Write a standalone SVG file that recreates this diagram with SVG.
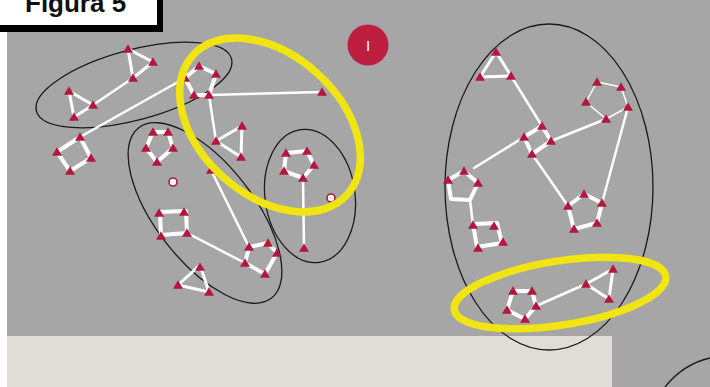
<svg xmlns="http://www.w3.org/2000/svg" xmlns:xlink="http://www.w3.org/1999/xlink" width="710" height="387" viewBox="0 0 710 387">
  <style>
    .hull { fill: none; stroke: #1a1a1a; stroke-width: 1.3; }
    .mark { fill: none; stroke: #F0E412; stroke-width: 7.5; }
    .edge { fill: none; stroke: #ffffff; stroke-linejoin: round; stroke-linecap: round; }
    .w4 { stroke-width: 4; }
    .w3 { stroke-width: 3; }
    .w2 { stroke-width: 2.5; }
    .w1 { stroke-width: 1.5; }
    .hole { fill: #ffffff; stroke: #B3173B; stroke-width: 1.6; }
  </style>
  <defs>
    <path id="tri" d="M0,-4.8 L5,3.8 L-5,3.8 Z" fill="#B3173B"/>
  </defs>

  <!-- page and panels -->
  <rect x="0" y="0" width="710" height="387" fill="#ffffff"/>
  <rect x="7" y="0" width="703" height="387" fill="#A6A6A6"/>
  <rect x="7" y="336" width="605" height="51" fill="#E0DCD6"/>

  <!-- title tab -->
  <g id="title">
    <rect x="0" y="0" width="163" height="32" fill="#000000"/>
    <rect x="0" y="0" width="157" height="25" fill="#ffffff"/>
    <text x="25" y="12" font-family="Liberation Sans, Arial, sans-serif" font-weight="bold" font-size="26" fill="#111111">Figura 5</text>
  </g>

  <!-- group outlines -->
  <g id="hulls">
    <ellipse class="hull" cx="134" cy="85" rx="101" ry="35" transform="rotate(-15 134 85)"/>
    <ellipse class="hull" cx="205" cy="213" rx="108" ry="49" transform="rotate(52 205 213)"/>
    <ellipse class="hull" cx="310" cy="196" rx="45" ry="67" transform="rotate(-8 310 196)"/>
    <ellipse class="hull" cx="549" cy="187" rx="104" ry="163"/>
    <path class="hull" d="M665,387 C677,372 692,362 710,358"/>
  </g>

  <!-- connectors -->
  <g id="connectors">
    <!-- shape outlines -->
    <path class="edge w4" d="M199,66 L216,74 L209,95 L194,95 L185,78 Z"/>
    <path class="edge w4" d="M153,132 L168,132 L173,148 L157,162 L146,148 Z"/>
    <path class="edge w4" d="M249,247 L268,243 L277,253 L265,274 L245,263 Z"/>
    <path class="edge w4" d="M286,153 L307,151 L314,165 L303,178 L284,171 Z"/>
    <path class="edge w4" d="M80,137 L91,158 L70,171 L57,152 Z"/>
    <path class="edge w4" d="M160,212 L186,211 L187,233 L161,235 Z"/>
    <path class="edge w4" d="M464,171 L478,183 L470,200 L451,199 L448,180 Z"/>
    <path class="edge w4" d="M473,224 L497,223 L502,243 L477,247 Z"/>
    <path class="edge w4" d="M584,194 L602,203 L597,223 L574,229 L568,206 Z"/>
    <path class="edge w4" d="M513,291 L532,291 L536,306 L525,319 L507,310 Z"/>
    <path class="edge w4" d="M542,126 L524,137 L532,154 L551,141 Z"/>

    <path class="edge w3" d="M128,49 L153,62 L133,78 Z"/>
    <path class="edge w3" d="M69,91 L93,105 L74,117 Z"/>
    <path class="edge w3" d="M216,141 L242,126 L241,157 Z"/>
    <path class="edge w3" d="M200,265 L178,285 L209,292 Z"/>
    <path class="edge w3" d="M496,52 L511,76 L480,77 Z"/>
    <path class="edge w3" d="M586,284 L613,269 L609,299 Z"/>

    <path class="edge w1" d="M597,82 L621,87 L628,107 L606,119 L586,102 Z"/>

    <!-- links between shapes -->
    <path class="edge w2" d="M93,105 L133,78"/>
    <path class="edge w2" d="M80,137 L185,78"/>
    <path class="edge w2" d="M209,95 L322,92"/>
    <path class="edge w2" d="M209,95 L216,141"/>
    <path class="edge w2" d="M211,170 L249,247"/>
    <path class="edge w2" d="M187,233 L245,263"/>
    <path class="edge w2" d="M303,178 L304,248"/>
    <path class="edge w2" d="M511,76 L542,126"/>
    <path class="edge w2" d="M551,141 L606,119"/>
    <path class="edge w2" d="M524,137 L474,168"/>
    <path class="edge w2" d="M532,154 L568,206"/>
    <path class="edge w2" d="M628,107 L602,203"/>
    <path class="edge w2" d="M470,200 L473,225"/>
    <path class="edge w2" d="M536,306 L586,284"/>
  </g>

  <!-- nodes -->
  <g id="tri-a1">
    <use xlink:href="#tri" x="128" y="49"/><use xlink:href="#tri" x="153" y="62"/><use xlink:href="#tri" x="133" y="78"/>
  </g>
  <g id="tri-a2">
    <use xlink:href="#tri" x="69" y="91"/><use xlink:href="#tri" x="93" y="105"/><use xlink:href="#tri" x="74" y="117"/>
  </g>
  <g id="square-a">
    <use xlink:href="#tri" x="80" y="137"/><use xlink:href="#tri" x="57" y="152"/><use xlink:href="#tri" x="91" y="158"/><use xlink:href="#tri" x="70" y="171"/>
  </g>
  <g id="pent-a">
    <use xlink:href="#tri" x="199" y="66"/><use xlink:href="#tri" x="216" y="74"/><use xlink:href="#tri" x="209" y="95"/><use xlink:href="#tri" x="194" y="95"/><use xlink:href="#tri" x="185" y="78"/>
  </g>
  <g id="single-a"><use xlink:href="#tri" x="322" y="92"/></g>
  <g id="tri-b">
    <use xlink:href="#tri" x="216" y="141"/><use xlink:href="#tri" x="242" y="126"/><use xlink:href="#tri" x="241" y="157"/>
  </g>
  <g id="single-b"><use xlink:href="#tri" x="211" y="170"/></g>
  <g id="pent-b">
    <use xlink:href="#tri" x="153" y="132"/><use xlink:href="#tri" x="168" y="132"/><use xlink:href="#tri" x="173" y="148"/><use xlink:href="#tri" x="157" y="162"/><use xlink:href="#tri" x="146" y="148"/>
  </g>
  <g id="square-b">
    <use xlink:href="#tri" x="159" y="213"/><use xlink:href="#tri" x="184" y="212"/><use xlink:href="#tri" x="187" y="233"/><use xlink:href="#tri" x="161" y="236"/>
  </g>
  <g id="pent-c">
    <use xlink:href="#tri" x="249" y="247"/><use xlink:href="#tri" x="268" y="243"/><use xlink:href="#tri" x="277" y="253"/><use xlink:href="#tri" x="265" y="274"/><use xlink:href="#tri" x="245" y="263"/>
  </g>
  <g id="tri-c">
    <use xlink:href="#tri" x="200" y="267"/><use xlink:href="#tri" x="178" y="285"/><use xlink:href="#tri" x="209" y="292"/>
  </g>
  <g id="pent-d">
    <use xlink:href="#tri" x="286" y="153"/><use xlink:href="#tri" x="307" y="151"/><use xlink:href="#tri" x="314" y="165"/><use xlink:href="#tri" x="303" y="178"/><use xlink:href="#tri" x="284" y="171"/>
  </g>
  <g id="single-d"><use xlink:href="#tri" x="304" y="248"/></g>
  <g id="holes">
    <circle class="hole" cx="173" cy="182" r="4"/>
    <circle class="hole" cx="331" cy="198" r="4"/>
  </g>

  <g id="tri-e">
    <use xlink:href="#tri" x="496" y="52"/><use xlink:href="#tri" x="480" y="77"/><use xlink:href="#tri" x="511" y="76"/>
  </g>
  <g id="square-e">
    <use xlink:href="#tri" x="542" y="126"/><use xlink:href="#tri" x="524" y="137"/><use xlink:href="#tri" x="551" y="141"/><use xlink:href="#tri" x="532" y="154"/>
  </g>
  <g id="pent-e">
    <use xlink:href="#tri" x="597" y="82"/><use xlink:href="#tri" x="621" y="87"/><use xlink:href="#tri" x="628" y="107"/><use xlink:href="#tri" x="606" y="119"/><use xlink:href="#tri" x="586" y="102"/>
  </g>
  <g id="pent-f">
    <use xlink:href="#tri" x="584" y="194"/><use xlink:href="#tri" x="602" y="203"/><use xlink:href="#tri" x="597" y="223"/><use xlink:href="#tri" x="574" y="229"/><use xlink:href="#tri" x="568" y="206"/>
  </g>
  <g id="pent-g">
    <use xlink:href="#tri" x="464" y="171"/><use xlink:href="#tri" x="448" y="180"/><use xlink:href="#tri" x="478" y="183"/>
  </g>
  <g id="square-g">
    <use xlink:href="#tri" x="473" y="225"/><use xlink:href="#tri" x="494" y="226"/><use xlink:href="#tri" x="503" y="242"/><use xlink:href="#tri" x="478" y="248"/>
  </g>
  <g id="pent-h">
    <use xlink:href="#tri" x="513" y="291"/><use xlink:href="#tri" x="532" y="291"/><use xlink:href="#tri" x="536" y="306"/><use xlink:href="#tri" x="525" y="319"/><use xlink:href="#tri" x="507" y="310"/>
  </g>
  <g id="tri-h">
    <use xlink:href="#tri" x="586" y="284"/><use xlink:href="#tri" x="613" y="269"/><use xlink:href="#tri" x="609" y="299"/>
  </g>

  <!-- highlight rings -->
  <g id="highlights">
    <ellipse class="mark" cx="270" cy="125" rx="104" ry="70" transform="rotate(42 270 125)"/>
    <ellipse class="mark" cx="560" cy="293" rx="107" ry="32" transform="rotate(-9 560 293)"/>
  </g>

  <!-- badge -->
  <g id="badge">
    <circle cx="368" cy="45" r="20.5" fill="#BE1E40"/>
    <text x="368" y="50.5" text-anchor="middle" font-family="Liberation Sans, Arial, sans-serif" font-size="15" fill="#ffffff">I</text>
  </g>
</svg>
